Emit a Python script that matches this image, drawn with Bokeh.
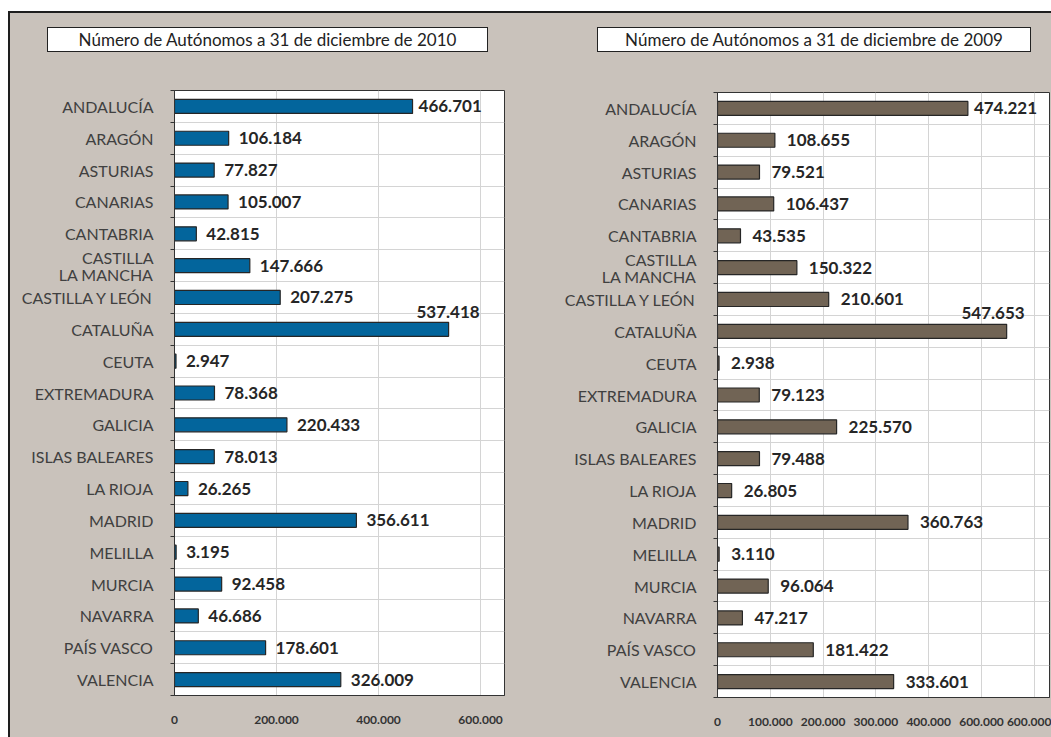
from bokeh.plotting import figure
from bokeh.models import Range1d, FixedTicker, Div, ColumnDataSource
from bokeh.layouts import row, column
from bokeh.core.properties import value
from bokeh.embed import file_html
from bokeh.resources import INLINE

# ---------------- data ----------------
regions = ["ANDALUCÍA", "ARAGÓN", "ASTURIAS", "CANARIAS", "CANTABRIA",
           "CASTILLA\nLA MANCHA", "CASTILLA Y LEÓN", "CATALUÑA", "CEUTA",
           "EXTREMADURA", "GALICIA", "ISLAS BALEARES", "LA RIOJA", "MADRID",
           "MELILLA", "MURCIA", "NAVARRA", "PAÍS VASCO", "VALENCIA"]
values_2010 = [466701, 106184, 77827, 105007, 42815, 147666, 207275, 537418, 2947,
               78368, 220433, 78013, 26265, 356611, 3195, 92458, 46686, 178601, 326009]
values_2009 = [474221, 108655, 79521, 106437, 43535, 150322, 210601, 547653, 2938,
               79123, 225570, 79488, 26805, 360763, 3110, 96064, 47217, 181422, 333601]
title_2010 = "Número de Autónomos a 31 de diciembre de 2010"
title_2009 = "Número de Autónomos a 31 de diciembre de 2009"
ticks_2010 = [0, 200000, 400000, 600000]
tick_labels_2010 = ["0", "200.000", "400.000", "600.000"]
ticks_2009 = [0, 100000, 200000, 300000, 400000, 500000, 600000]
tick_labels_2009 = ["0", "100.000", "200.000", "300.000", "400.000", "600.000", "600.000"]

GRAY = "#c9c2bb"
FONT = "Lato"


def fmt(v):
    return f"{v:,}".replace(",", ".")


def make_panel(vals, title, ticks, tick_labels, color, xmax, mb_left, mb_right,
               mb_top, mb_bottom, width, div_left, div_width, off, big_dx, big_dy):
    n = len(regions)
    idx = list(range(n))
    p = figure(width=width, height=685, x_range=Range1d(0, xmax),
               y_range=Range1d(n - 0.5, -0.5), output_backend="svg",
               toolbar_location=None, min_border_left=mb_left,
               min_border_right=mb_right, min_border_top=mb_top,
               min_border_bottom=mb_bottom)
    p.background_fill_color = "white"
    p.border_fill_color = GRAY
    p.outline_line_color = "#333333"
    p.outline_line_width = 1

    # grids
    p.xgrid.ticker = FixedTicker(ticks=ticks)
    p.ygrid.ticker = FixedTicker(ticks=[i - 0.5 for i in range(n + 1)])
    p.xgrid.grid_line_color = "#d4d4d4"
    p.ygrid.grid_line_color = "#d4d4d4"

    # x axis
    xa = p.xaxis[0]
    xa.ticker = FixedTicker(ticks=ticks)
    xa.major_label_overrides = {t: l for t, l in zip(ticks, tick_labels)}
    xa.major_tick_line_color = None
    xa.minor_tick_line_color = None
    xa.major_tick_out = 0
    xa.major_label_standoff = 20
    xa.axis_line_color = "#333333"
    xa.major_label_text_font = FONT
    xa.major_label_text_font_style = "bold"
    xa.major_label_text_font_size = "12px"
    xa.major_label_text_color = "#333333"

    # y axis
    ya = p.yaxis[0]
    ya.ticker = FixedTicker(ticks=idx, minor_ticks=[i - 0.5 for i in range(n + 1)])
    ya.major_label_overrides = {i: r for i, r in enumerate(regions)}
    ya.major_tick_line_color = None
    ya.major_tick_out = 0
    ya.minor_tick_out = 4
    ya.minor_tick_in = 0
    ya.minor_tick_line_color = "#333333"
    ya.axis_line_color = "#333333"
    ya.major_label_standoff = 17
    ya.major_label_text_font = FONT
    ya.major_label_text_font_size = "16px"
    ya.major_label_text_color = "#404040"
    ya.major_label_text_line_height = 0.9

    p.hbar(y=idx, right=vals, left=0, height=0.44, fill_color=color,
           line_color="#262626", line_width=1.2)

    big = vals.index(max(vals))
    norm = [i for i in idx if i != big]
    src = ColumnDataSource(dict(
        x=[vals[i] for i in norm], y=norm, t=[fmt(vals[i]) for i in norm],
        dx=[6 if i == 0 else off for i in norm]))
    p.text(x="x", y="y", text="t", x_offset="dx", source=src,
           text_baseline="middle", text_align="left", text_font=value(FONT),
           text_font_style="bold", text_font_size="17px", text_color="#262626")
    p.text(x=[vals[big]], y=[big], text=[fmt(vals[big])], x_offset=big_dx,
           y_offset=big_dy, text_baseline="middle", text_align="right",
           text_font=value(FONT), text_font_style="bold", text_font_size="17px",
           text_color="#262626")

    div = Div(text=title, width=div_width, height=25, margin=(14, 0, 0, div_left),
              styles={"border": "1px solid #222222", "background-color": "white",
                      "text-align": "center", "font-family": FONT,
                      "font-size": "17px", "line-height": "23px",
                      "color": "#222222", "box-sizing": "border-box"})
    col = column(div, p, spacing=0, styles={"background-color": GRAY})
    return col


left = make_panel(values_2010, title_2010, ticks_2010, tick_labels_2010, "#03659c",
                  647000, 164, 16, 38, 42, 510, 37, 441, 10, 31, -17)
right = make_panel(values_2009, title_2009, ticks_2009, tick_labels_2009, "#716455",
                   628800, 197, 2, 40, 40, 531, 77, 434, 12, 18, -18)

layout = row(left, right, spacing=0, margin=(11, 0, 0, 8),
             styles={"border-top": "2px solid #1e1e1e",
                     "border-left": "2px solid #1e1e1e",
                     "background-color": GRAY})

open("out.html", "w").write(file_html(layout, INLINE))
